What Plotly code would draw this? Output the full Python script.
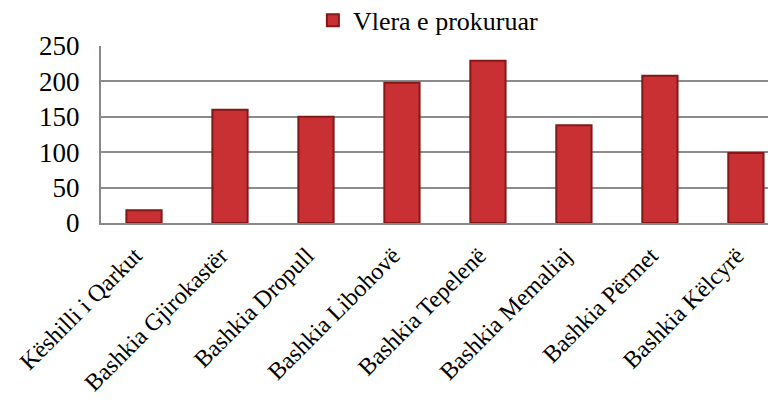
import plotly.graph_objects as go

categories = ["Këshilli i Qarkut", "Bashkia Gjirokastër", "Bashkia Dropull",
              "Bashkia Libohovë", "Bashkia Tepelenë", "Bashkia Memaliaj",
              "Bashkia Përmet", "Bashkia Këlcyrë"]
values = [18, 160, 150, 198, 229, 138, 208, 99]
series_name = "Vlera e prokuruar"
y_ticks = [0, 50, 100, 150, 200, 250]

font_family = "Liberation Serif, Times New Roman, serif"

fig = go.Figure()
fig.add_trace(go.Bar(
    x=list(range(len(categories))), y=values, name=series_name,
    width=0.41,
    marker=dict(color="#C93033", line=dict(color="#841818", width=2)),
    showlegend=True,
))

fig.update_layout(
    width=768, height=397,
    margin=dict(l=93, r=0, t=38, b=182, autoexpand=False),
    paper_bgcolor="white", plot_bgcolor="white",
    font=dict(family=font_family, size=26, color="black"),
    legend=dict(orientation="h", x=0.485, xanchor="center", y=1.145, yanchor="middle",
                font=dict(size=26), itemwidth=30, bgcolor="rgba(0,0,0,0)"),
    xaxis=dict(
        range=[-0.5, 7.35], tickmode="array",
        tickvals=list(range(len(categories))), ticktext=categories,
        tickangle=-45, showgrid=False, showline=True, linecolor="#888888",
        linewidth=2, ticks="", tickfont=dict(size=24), ticklabelstandoff=7,
        ticklabelshift=-9, ticklabeloverflow="allow",
    ),
    yaxis=dict(
        range=[0, 250], tickmode="array", tickvals=y_ticks,
        showgrid=True, gridcolor="#8c8c8c", gridwidth=1.5,
        showline=True, linecolor="#888888", linewidth=2, mirror=False,
        ticks="", ticklabelstandoff=14, tickfont=dict(size=27),
        zeroline=False,
    ),
    bargap=0.58,
)

fig.write_html("out.html")
